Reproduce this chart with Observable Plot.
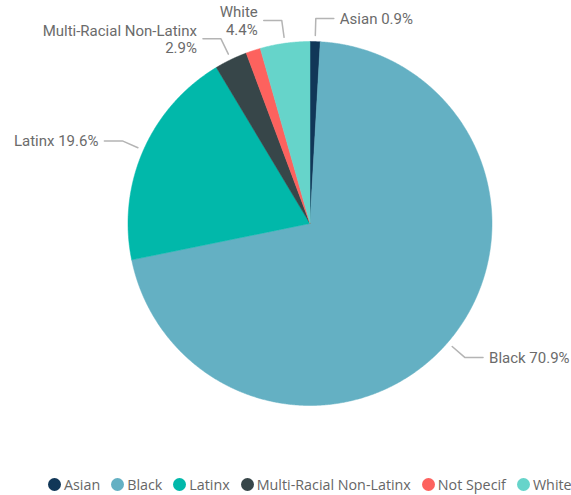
<!DOCTYPE html>
<html><head><meta charset="utf-8">
<script src="https://cdn.jsdelivr.net/npm/d3@7"></script>
<script src="https://cdn.jsdelivr.net/npm/@observablehq/plot@0.6"></script>
<style>
body{margin:0;background:#fff;}
#legend{display:flex;align-items:center;height:24px;padding-left:48px;font-family:"Open Sans",sans-serif;font-size:14.3px;color:#666;white-space:nowrap;}
.item{display:flex;align-items:center;margin-right:11px;}
.sw{width:13px;height:13px;border-radius:50%;margin-right:3px;flex:none;}
</style></head><body><div id="chart"></div><div id="legend"></div>
<script>
const categories = ["Asian", "Black", "Latinx", "Multi-Racial Non-Latinx", "Not Specif", "White"];
const values = [0.9, 70.9, 19.6, 2.9, 1.3, 4.4];
const colors = ["#113758", "#64b0c3", "#01b8aa", "#374649", "#fd625e", "#66d4ca"];
const labelHidden = ["Not Specif"];
const labelWrapped = ["White", "Multi-Racial Non-Latinx"];

const W = 571, H = 472, cx = 309.5, cy = 223, R = 182;
const total = d3.sum(values);
const arcs = d3.pie().sort(null).value(d => d)(values);
const pt = (a, r) => ({x: cx + r * Math.sin(a), y: cy - r * Math.cos(a)});

const slicePts = [];
arcs.forEach((a, i) => {
  const cat = categories[i];
  slicePts.push({cat, ...pt(0, 0)});
  const n = Math.max(2, Math.ceil((a.endAngle - a.startAngle) / 0.005));
  for (let k = 0; k <= n; k++) {
    const t = a.startAngle + (a.endAngle - a.startAngle) * k / n;
    slicePts.push({cat, ...pt(t, R)});
  }
  slicePts.push({cat, ...pt(0, 0)});
});

const leaderPts = [], labels = [];
arcs.forEach((a, i) => {
  const cat = categories[i];
  if (labelHidden.includes(cat)) return;
  const m = (a.startAngle + a.endAngle) / 2;
  const side = Math.sin(m) >= 0 ? 1 : -1;
  const p0 = pt(m, R + 6), p1 = pt(m, R + 23);
  const p2 = {x: p1.x + side * 18, y: p1.y};
  leaderPts.push({cat, ...p0}, {cat, ...p1}, {cat, ...p2});
  const pct = (values[i] / total * 100).toFixed(1) + "%";
  const text = labelWrapped.includes(cat) ? cat + "\n" + pct : cat + " " + pct;
  labels.push({cat, x: p2.x + side * 6, y: p2.y, text, side});
});

const labelStyle = {x: "x", y: "y", text: "text", lineAnchor: "middle", lineHeight: 1.15, fill: "#6b6b6b", fontSize: 15, fontFamily: "Roboto"};
const chart = Plot.plot({
  width: W, height: H, margin: 0,
  x: {domain: [0, W], range: [0, W], axis: null},
  y: {domain: [0, H], range: [0, H], axis: null},
  color: {domain: categories, range: colors},
  marks: [
    Plot.line(slicePts, {x: "x", y: "y", z: "cat", fill: "cat", stroke: "cat", strokeWidth: 0.5, curve: "linear"}),
    Plot.line(leaderPts, {x: "x", y: "y", z: "cat", stroke: "#b4b4b4", strokeWidth: 1.5}),
    Plot.text(labels.filter(d => d.side > 0), {...labelStyle, textAnchor: "start"}),
    Plot.text(labels.filter(d => d.side < 0), {...labelStyle, textAnchor: "end"})
  ]
});
document.getElementById("chart").append(chart);

const legend = document.getElementById("legend");
categories.forEach((c, i) => {
  const it = document.createElement("div"); it.className = "item";
  const sw = document.createElement("span"); sw.className = "sw"; sw.style.background = colors[i];
  const tx = document.createElement("span"); tx.textContent = c;
  it.append(sw, tx); legend.append(it);
});
</script></body></html>
